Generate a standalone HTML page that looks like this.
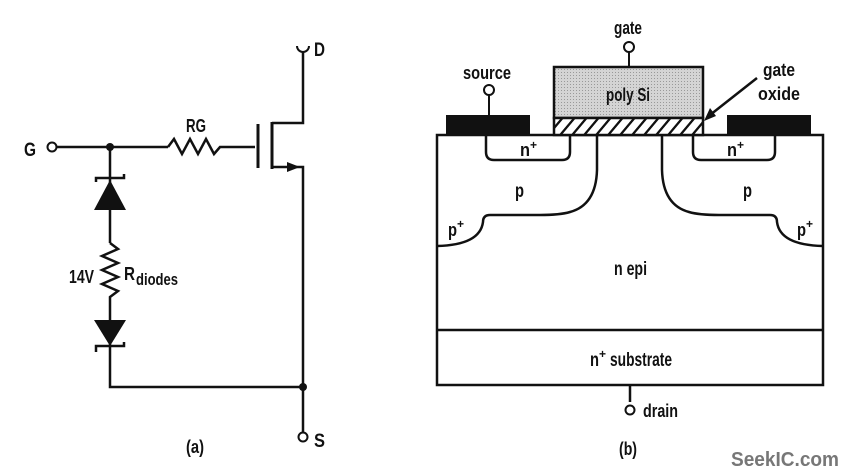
<!DOCTYPE html>
<html><head><meta charset="utf-8"><style>
html,body{margin:0;padding:0;background:#fff;}
svg{display:block;}
text{font-family:"Liberation Sans Narrow","Liberation Sans",sans-serif;font-weight:bold;fill:#111;}
</style></head><body>
<svg width="850" height="476" viewBox="0 0 850 476" xmlns="http://www.w3.org/2000/svg">
<defs>
<pattern id="dots" width="3" height="3" patternUnits="userSpaceOnUse"><rect width="3" height="3" fill="#d4d4d4"/><rect width="1" height="1" fill="#999"/></pattern>
<pattern id="hatch" width="12" height="17" patternUnits="userSpaceOnUse" patternTransform="skewX(-40)"><rect width="12" height="17" fill="#fff"/><rect x="0" width="3" height="17" fill="#111"/></pattern>
</defs>
<g stroke="#111" stroke-width="2.5" fill="none">
<circle cx="52" cy="147" r="4.5" stroke-width="2"/>
<line x1="57" y1="147" x2="168" y2="147"/>
<polyline points="168,147 174,139 182,154 190,139 198,154 206,139 214,154 220,147 255,147"/>
<line x1="258" y1="124" x2="258" y2="168" stroke-width="3"/>
<line x1="272" y1="122" x2="272" y2="169" stroke-width="3"/>
<polyline points="272,123 303,123 303,52"/>
<path d="M297,46 A6,6 0 0 0 309,46" stroke-width="2"/>
<polyline points="272,167 303,167 303,387"/>
<line x1="303" y1="387" x2="303" y2="432"/>
<circle cx="303" cy="437" r="4.5" stroke-width="2"/>
<line x1="110" y1="147" x2="110" y2="243"/>
<polyline points="96,182 96,178 124,178 124,174"/>
<polyline points="110,243 118,249 102,256 118,263 102,270 118,277 102,284 118,291 110,297 110,345"/>
<polyline points="96,352 96,346 124,346 124,342"/>
<polyline points="110,346 110,387 303,387"/>
</g>
<circle cx="110" cy="147" r="4" fill="#111"/>
<circle cx="303" cy="387" r="4" fill="#111"/>
<polygon points="110,180 94,210 126,210" fill="#111"/>
<polygon points="94,320 126,320 110,346" fill="#111"/>
<polygon points="287,162 300,167 287,172" fill="#111"/>
<text x="24" y="156" font-size="19" textLength="12" lengthAdjust="spacingAndGlyphs">G</text>
<text x="186" y="132" font-size="18" textLength="20" lengthAdjust="spacingAndGlyphs">RG</text>
<text x="314" y="56" font-size="19" textLength="11" lengthAdjust="spacingAndGlyphs">D</text>
<text x="314" y="447" font-size="19" textLength="11" lengthAdjust="spacingAndGlyphs">S</text>
<text x="69" y="283" font-size="18" textLength="25" lengthAdjust="spacingAndGlyphs">14V</text>
<text x="124" y="280" font-size="18" textLength="11" lengthAdjust="spacingAndGlyphs">R</text>
<text x="136" y="285" font-size="17" textLength="42" lengthAdjust="spacingAndGlyphs">diodes</text>
<text x="186" y="453" font-size="18" textLength="18" lengthAdjust="spacingAndGlyphs">(a)</text>
<g stroke="#111" stroke-width="2.5" fill="none">
<rect x="437" y="135" width="386" height="250" fill="#fff"/>
<line x1="437" y1="330" x2="823" y2="330"/>
<path d="M486,135 L486,152 Q486,160 494,160 L562,160 Q570,160 570,152 L570,135"/>
<path d="M693,135 L693,152 Q693,160 701,160 L767,160 Q775,160 775,152 L775,135"/>
<path d="M597,135 L597,170 Q596,205 570,212 Q560,215 540,215 L490,215 Q483,215 483,222 Q480,245 437,246"/>
<path d="M662,135 L662,170 Q663,205 689,212 Q699,215 719,215 L770,215 Q777,215 777,222 Q780,245 823,246"/>
<line x1="630" y1="385" x2="630" y2="402"/>
<circle cx="630" cy="410" r="4.5" stroke-width="2"/>
<line x1="489" y1="95" x2="489" y2="115" stroke-width="2"/>
<circle cx="489" cy="90" r="5" stroke-width="2" fill="#fff"/>
<line x1="629" y1="52" x2="629" y2="67" stroke-width="2"/>
<circle cx="629" cy="47" r="5" stroke-width="2" fill="#fff"/>
<line x1="757" y1="78" x2="710" y2="115" stroke-width="2.5"/>
</g>
<polygon points="704,121 710,108 716,116" fill="#111"/>
<rect x="554" y="67" width="149" height="51" fill="url(#dots)" stroke="#111" stroke-width="2.5"/>
<rect x="554" y="118" width="149" height="17" fill="url(#hatch)" stroke="#111" stroke-width="2.5"/>
<rect x="446" y="115" width="84" height="20" fill="#111"/>
<rect x="727" y="115" width="84" height="20" fill="#111"/>
<text x="614" y="34" font-size="18" textLength="28" lengthAdjust="spacingAndGlyphs">gate</text>
<text x="463" y="79" font-size="18" textLength="48" lengthAdjust="spacingAndGlyphs">source</text>
<text x="606" y="101" font-size="18" textLength="44" lengthAdjust="spacingAndGlyphs">poly Si</text>
<text x="763" y="76" font-size="18" textLength="32" lengthAdjust="spacingAndGlyphs">gate</text>
<text x="758" y="100" font-size="18" textLength="42" lengthAdjust="spacingAndGlyphs">oxide</text>
<text x="520" y="156" font-size="18" textLength="10" lengthAdjust="spacingAndGlyphs">n</text><text x="530" y="149" font-size="12">+</text>
<text x="727" y="156" font-size="18" textLength="10" lengthAdjust="spacingAndGlyphs">n</text><text x="737" y="149" font-size="12">+</text>
<text x="515" y="197" font-size="19" textLength="9" lengthAdjust="spacingAndGlyphs">p</text>
<text x="743" y="197" font-size="19" textLength="9" lengthAdjust="spacingAndGlyphs">p</text>
<text x="448" y="236" font-size="18" textLength="9" lengthAdjust="spacingAndGlyphs">p</text><text x="457" y="228" font-size="12">+</text>
<text x="797" y="236" font-size="18" textLength="9" lengthAdjust="spacingAndGlyphs">p</text><text x="806" y="228" font-size="12">+</text>
<text x="614" y="275" font-size="19" textLength="33" lengthAdjust="spacingAndGlyphs">n epi</text>
<text x="590" y="366" font-size="19" textLength="9" lengthAdjust="spacingAndGlyphs">n</text><text x="599" y="358" font-size="12">+</text>
<text x="610" y="366" font-size="19" textLength="62" lengthAdjust="spacingAndGlyphs">substrate</text>
<text x="643" y="417" font-size="18" textLength="35" lengthAdjust="spacingAndGlyphs">drain</text>
<text x="619" y="455" font-size="18" textLength="18" lengthAdjust="spacingAndGlyphs">(b)</text>
<text x="731" y="466" font-size="20" textLength="108" lengthAdjust="spacingAndGlyphs" style="font-family:'Liberation Sans',sans-serif;fill:#777;">SeekIC.com</text>
</svg>
</body></html>
